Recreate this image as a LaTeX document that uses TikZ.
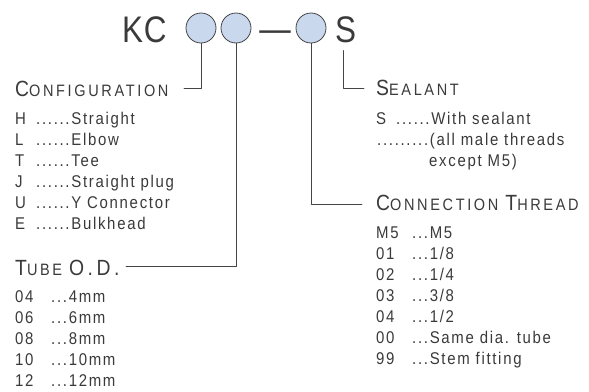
\documentclass[tikz,border=0pt]{standalone}
\usepackage{fontspec}
\setmainfont{Liberation Sans}[FakeStretch=0.88, LetterSpace=10]
\newfontfamily\headfont{Liberation Sans}[FakeStretch=0.88, LetterSpace=16]
\newfontfamily\codefont{Liberation Sans}[FakeStretch=0.85, LetterSpace=2]
\definecolor{bubble}{HTML}{CAD8EE}
\definecolor{ink}{HTML}{3A3A3A}
\definecolor{lead}{HTML}{444444}
\newcommand{\hcap}[2]{{\fontsize{22}{24}\selectfont #1}{\fontsize{16.5}{20}\selectfont #2}}

\begin{document}
\begin{tikzpicture}[x=1pt, y=-1pt, line cap=round, line join=round,
    item/.style={anchor=base west, inner sep=0pt, text=ink, font=\fontsize{17}{20}\selectfont},
    head/.style={anchor=base west, inner sep=0pt, text=ink, font=\headfont},
    code/.style={anchor=base west, inner sep=0pt, text=ink, font=\codefont\fontsize{37}{40}\selectfont},
    pick/.style={circle, draw=lead, fill=bubble, line width=0.8pt, minimum size=30pt, inner sep=0pt},
    wire/.style={draw=lead, line width=0.8pt}]
  \useasboundingbox (0,0) rectangle (589,391);

  % part number
  \node[code] (kc) at (122,42) {KC};
  \node[pick] (c1) at (201,28) {};
  \node[pick] (c2) at (236,28) {};
  \node[code, anchor=base] (dash) at (275,41) {—};
  \node[pick] (c3) at (311,28) {};
  \node[code] (s) at (335,42) {S};

  % headings
  \node[head] (cfg) at (15,96) {\hcap{C}{ONFIGURATION}};
  \node[head] (seal) at (376,95) {\hcap{S}{EALANT}};
  \node[head] (thr) at (376,210) {\hcap{C}{ONNECTION}\hspace{7pt}\hcap{T}{HREAD}};
  \node[head] (tube) at (15,275) {\hcap{T}{UBE}\hspace{7pt}{\fontsize{22}{24}\selectfont O.D.}};

  % leaders
  \coordinate (cfgEnd) at (184,88);
  \coordinate (tubeEnd) at (126,266);
  \coordinate (thrEnd) at (362,204);
  \coordinate (sealEnd) at (364,88);
  \draw[wire] (c1.south) |- (cfgEnd);
  \draw[wire] (c2.south) |- (tubeEnd);
  \draw[wire] (c3.south) |- (thrEnd);
  \draw[wire] ([xshift=8pt,yshift=-8pt]s.south west) |- (sealEnd);

  % configuration
  \foreach \k/\t [count=\i] in {H/Straight, L/Elbow, T/Tee, J/Straight plug, U/Y Connector, E/Bulkhead}
    \node[item] (cfg\i) at (15,{103+21*\i}) {\makebox[21pt][l]{\k}......\t};

  % tube o.d.
  \foreach \k/\t [count=\i] in {04/4mm, 06/6mm, 08/8mm, 10/10mm, 12/12mm}
    \node[item] (tube\i) at (15,{281+21*\i}) {\makebox[36pt][l]{\k}...\t};

  % sealant
  \node[item] (seal1) at (376,124) {\makebox[20pt][l]{S}......With sealant};
  \node[item] (seal2) at (377,145) {.........(all male threads};
  \node[item] (seal3) at (429,166) {except M5)};

  % connection thread
  \foreach \k/\t [count=\i] in {M5/M5, 01/{1/8}, 02/{1/4}, 03/{3/8}, 04/{1/2}, 00/Same dia. tube, 99/Stem fitting}
    \node[item] (thr\i) at (376,{217+21*\i}) {\makebox[36pt][l]{\k}...\t};
\end{tikzpicture}
\end{document}
